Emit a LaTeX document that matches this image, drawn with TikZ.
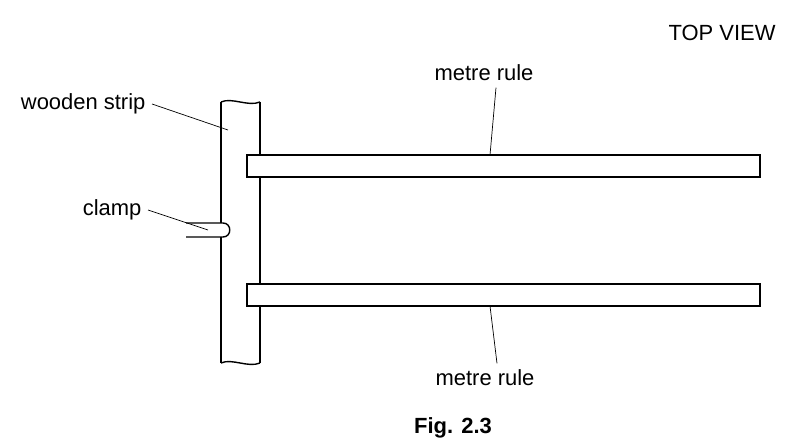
\documentclass[tikz,border=0pt]{standalone}
\usepackage{fontspec}
\setmainfont{Liberation Sans}
\begin{document}
\begin{tikzpicture}[x=0.02cm, y=-0.02cm, thick, lbl/.style={font=\fontsize{12.5}{14}\selectfont}]
    \useasboundingbox (0,0) rectangle (787,439);
    \clip (0,0) rectangle (787,439);
    % wooden strip with broken ends
    \draw (221,102) .. controls (232,97) and (248,107) .. (260,102);
    \draw (221,363) .. controls (232,358) and (248,368) .. (260,363);
    \draw (221,102) -- (221,363);
    \draw (260,102) -- (260,155) (260,177) -- (260,284) (260,306) -- (260,363);
    % metre rules
    \draw (247,155) rectangle (760,177);
    \draw (247,284) rectangle (760,306);
    % clamp
    \fill[white] (215,223) rectangle (224,237);
    \draw (186,223) -- (223,223) .. controls (232,223) and (232,237) .. (223,237) -- (186,237);

    \node[lbl] (top) at (722,33) {TOP VIEW};
    \node[lbl] (rule1) at (484,73) {metre rule};
    \node[lbl] (rule2) at (485,378) {metre rule};
    \node[lbl, anchor=east] (strip) at (152,104) {wooden strip};
    \node[lbl, anchor=east] (clamp) at (148,210) {clamp};
    \node[font=\bfseries\fontsize{12.5}{14}\selectfont] (fig) at (453,428) {Fig. 2.3};

    \draw[thin] (strip.east) -- (228,130);
    \draw[thin] (clamp.east) -- (208,230);
    \draw[thin] (rule1.south) ++(12,0) coordinate (r1) -- (490,155);
    \draw[thin] (rule2.north) ++(12,0) coordinate (r2) -- (490,306);
\end{tikzpicture}
\end{document}
